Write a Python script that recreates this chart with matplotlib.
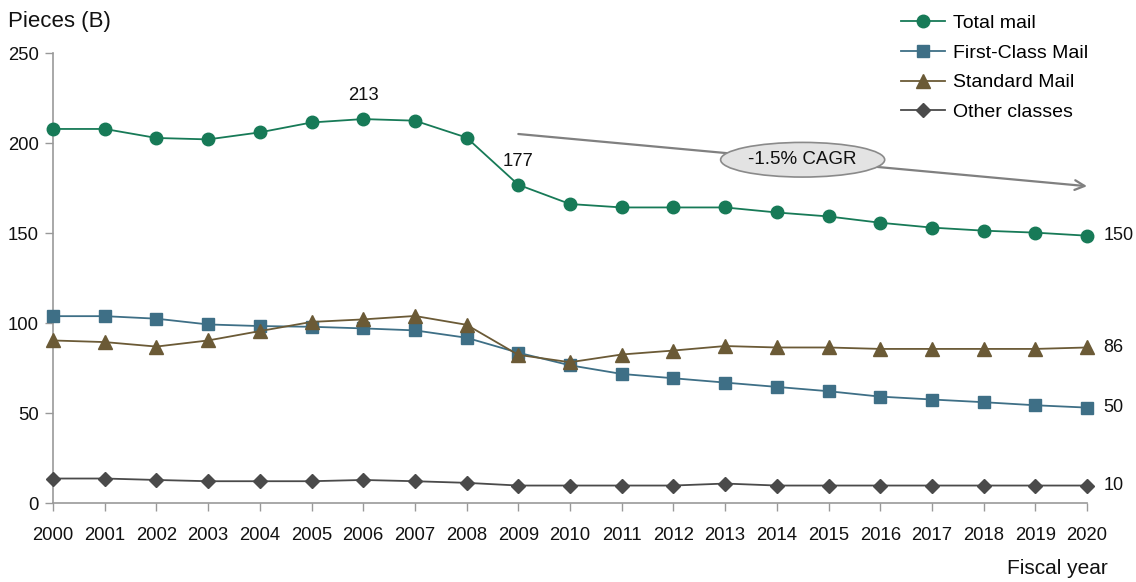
import matplotlib
matplotlib.use("Agg")
import matplotlib.pyplot as plt

plt.rcParams['font.family'] = ['Liberation Sans', 'DejaVu Sans']

years = list(range(2000, 2021))
total_mail = [207.8, 207.8, 202.8, 202.0, 205.9, 211.4, 213.3, 212.4, 203.0, 176.8, 166.1,
              164.2, 164.2, 164.2, 161.4, 159.2, 155.7, 153.0, 151.3, 150.2, 148.5]
first_class = [103.8, 103.8, 102.4, 99.2, 98.3, 97.9, 97.0, 95.9, 91.8, 83.5, 76.5,
               71.7, 69.3, 66.9, 64.5, 62.1, 59.1, 57.5, 56.0, 54.3, 53.0]
standard = [90.3, 89.4, 86.9, 90.3, 95.5, 100.6, 102.0, 103.9, 99.0, 82.3, 78.2,
            82.5, 84.7, 87.2, 86.4, 86.4, 85.6, 85.6, 85.6, 85.6, 86.4]
other = [13.6, 13.6, 12.8, 12.1, 12.1, 12.1, 12.8, 12.1, 11.2, 9.7, 9.7,
         9.7, 9.7, 10.8, 9.7, 9.7, 9.7, 9.7, 9.7, 9.7, 9.7]
series_names = ["Total mail", "First-Class Mail", "Standard Mail", "Other classes"]
end_labels = ["150", "50", "86", "10"]
peak_years = [2006, 2009]
peak_labels = ["213", "177"]

colors = ["#177a57", "#3e6f86", "#6b5a36", "#4a4a4a"]
markers = ["o", "s", "^", "D"]
sizes = [9, 8.5, 9.5, 7]
all_series = [total_mail, first_class, standard, other]

fig = plt.figure(figsize=(11.36, 5.82), dpi=100)
ax = fig.add_axes([53 / 1136, 79 / 582, (1087 - 53) / 1136, 450 / 582])

for vals, name, c, m, s in zip(all_series, series_names, colors, markers, sizes):
    ax.plot(years, vals, color=c, marker=m, markersize=s, lw=1.3, label=name,
            markeredgecolor=c, clip_on=False, zorder=3)

# value labels at the right end
for vals, lab in zip(all_series, end_labels):
    ax.annotate(lab, (years[-1], vals[-1]), xytext=(12, 0), textcoords="offset points",
                ha="left", va="center", fontsize=13, color="#111111",
                annotation_clip=False)

# peak labels
for yr, lab in zip(peak_years, peak_labels):
    v = total_mail[years.index(yr)]
    ax.annotate(lab, (yr, v), xytext=(0, 17), textcoords="offset points",
                ha="center", va="center", fontsize=13.3, color="#111111")

# CAGR arrow
ax.annotate("", xy=(2020, 176), xytext=(2009, 205),
            arrowprops=dict(arrowstyle="->,head_length=0.7,head_width=0.35",
                            color="#808080", lw=1.6, shrinkA=0, shrinkB=0),
            annotation_clip=False)
ax.text(2014.5, 190.7, "-1.5% CAGR", ha="center", va="center", fontsize=13.5,
        color="#111111",
        bbox=dict(boxstyle="ellipse,pad=0.2", fc="#e3e3e3", ec="#8a8a8a", lw=1.2))

ax.set_xlim(2000, 2020)
ax.set_ylim(0, 250)
ax.set_xticks(years)
ax.set_yticks([0, 50, 100, 150, 200, 250])
ax.tick_params(axis="both", direction="out", length=6, width=1, color="#999999",
               labelsize=13.3, labelcolor="#111111")
ax.tick_params(axis="x", pad=11)
ax.tick_params(axis="y", pad=4)
for side in ["top", "right"]:
    ax.spines[side].set_visible(False)
for side in ["left", "bottom"]:
    ax.spines[side].set_color("#999999")
    ax.spines[side].set_linewidth(1.2)

fig.text(8 / 1136, 1 - 22 / 582, "Pieces (B)", fontsize=16, ha="left", va="center",
         color="#111111")
fig.text(1108 / 1136, 1 - 568 / 582, "Fiscal year", fontsize=15, ha="right", va="center",
         color="#111111")

leg = ax.legend(loc="upper left", bbox_to_anchor=(883 / 1136, 1 + 3 / 582),
                bbox_transform=fig.transFigure, frameon=False, fontsize=14,
                handlelength=2.3, labelspacing=0.62, handletextpad=0.4)

fig.savefig("out.png", dpi=100)
